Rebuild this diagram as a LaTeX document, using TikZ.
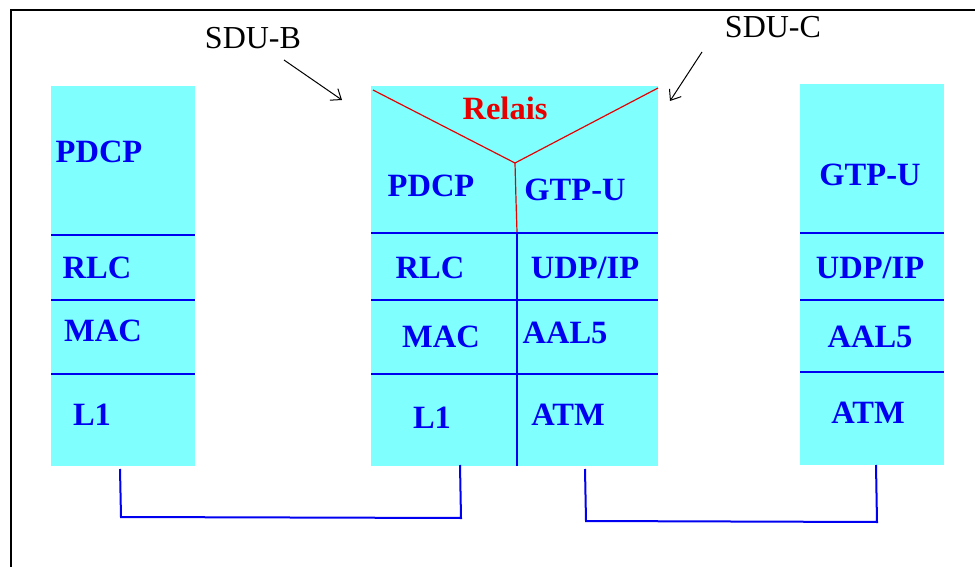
\documentclass[tikz,border=0pt]{standalone}
\usepackage{fontspec}
\setmainfont{Liberation Serif}
\usetikzlibrary{arrows.meta}
\definecolor{cyanfill}{HTML}{80FFFF}
\definecolor{lblue}{HTML}{0000F0}
\definecolor{lred}{HTML}{E80000}
\tikzset{
  stackbox/.style={fill=cyanfill, draw=none},
  layerline/.style={draw=lblue, line width=1.6pt},
  lab/.style={text=lblue, font=\fontsize{32.5}{38}\selectfont\bfseries, inner sep=0pt},
  relab/.style={text=lred, font=\fontsize{32.5}{38}\selectfont\bfseries, inner sep=0pt},
  sdulab/.style={text=black, font=\fontsize{32}{38}\selectfont, inner sep=0pt},
  relline/.style={draw=lred, line width=1.2pt},
  sduarrow/.style={draw=black, line width=1pt, -{Straight Barb[length=9pt,width=14pt,line width=1pt]}},
  conn/.style={draw=lblue, line width=2pt}
}
\begin{document}
\begin{tikzpicture}[x=1pt,y=-1pt]
\useasboundingbox (0,0) rectangle (975,567);
\fill[white] (0,0) rectangle (975,567);
\draw[line width=2pt] (11,568) -- (11,10) -- (976,10);

% stacks
\path[stackbox] (51,86) rectangle (195,466);
\path[stackbox] (371,86) rectangle (658,466);
\path[stackbox] (800,84) rectangle (944,465);

% left stack layers
\draw[layerline] (51,235) -- (195,235);
\draw[layerline] (51,300) -- (195,300);
\draw[layerline] (51,374) -- (195,374);
\node[lab] (lpdcp) at (99,152) {PDCP};
\node[lab] (lrlc) at (97,268) {RLC};
\node[lab] (lmac) at (103,331) {MAC};
\node[lab] (ll1) at (92,415) {L1};

% middle stack
\draw[layerline] (371,233) -- (658,233);
\draw[layerline] (371,300) -- (658,300);
\draw[layerline] (371,374) -- (658,374);
\draw[layerline] (517,233) -- (517,466);
\coordinate (vtx) at (515,163);
\draw[relline] (373,90) -- (vtx) -- (658,88);
\draw[relline] (vtx) -- (516,200) -- (517,232);
\node[relab] (relais) at (505,108) {Relais};
\node[lab] (mpdcp) at (431,186) {PDCP};
\node[lab] (mgtp) at (575,190) {GTP-U};
\node[lab] (mrlc) at (430,268) {RLC};
\node[lab] (mudp) at (585,268) {UDP/IP};
\node[lab] (mmac) at (441,337) {MAC};
\node[lab] (maal) at (565,333) {AAL5};
\node[lab] (ml1) at (432,418) {L1};
\node[lab] (matm) at (568,415) {ATM};

% right stack
\draw[layerline] (800,233) -- (944,233);
\draw[layerline] (800,300) -- (944,300);
\draw[layerline] (800,372) -- (944,372);
\node[lab] (rgtp) at (870,175) {GTP-U};
\node[lab] (rudp) at (870,268) {UDP/IP};
\node[lab] (raal) at (870,337) {AAL5};
\node[lab] (ratm) at (868,413) {ATM};

% SDU labels and arrows
\node[sdulab] (sdub) at (253,38) {SDU-B};
\node[sdulab] (sduc) at (773,27) {SDU-C};
\coordinate (sdubt) at (284,60);
\coordinate (sdubh) at (342,100);
\coordinate (sduct) at (702,52);
\coordinate (sduch) at (670,101);
\draw[sduarrow] (sdubt) -- (sdubh);
\draw[sduarrow] (sduct) -- (sduch);

% bottom connectors
\coordinate (la) at (120,469);
\coordinate (lb) at (460,465);
\coordinate (ra) at (585,469);
\coordinate (rb) at (876,465);
\draw[conn] (la) -- (121,517) -- (461,518) -- (lb);
\draw[conn] (ra) -- (586,521) -- (877,522) -- (rb);
\end{tikzpicture}
\end{document}
